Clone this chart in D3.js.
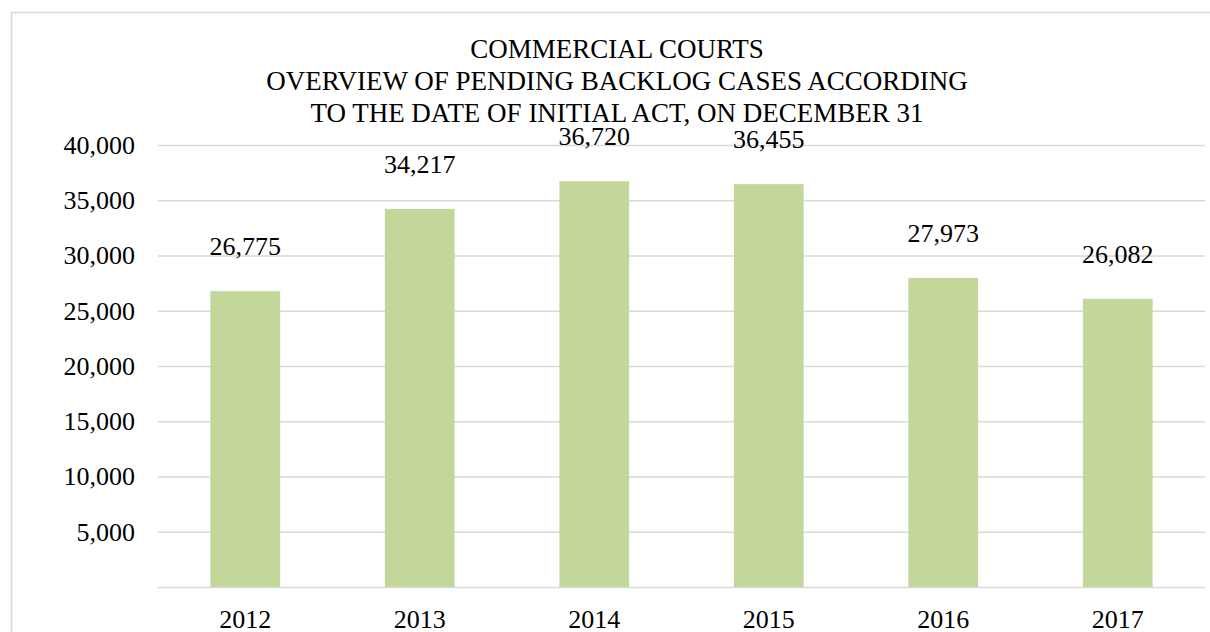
<!DOCTYPE html>
<html>
<head>
<meta charset="utf-8">
<script src="https://cdn.jsdelivr.net/npm/d3@7/dist/d3.min.js"></script>
<style>
  html, body { margin: 0; padding: 0; background: #fff; }
  svg { display: block; }
  svg text { font-family: "Liberation Serif", "Tinos", "Times New Roman", "Nimbus Roman", "DejaVu Serif", serif; fill: #000; }
</style>
</head>
<body>
<svg id="chart" width="1210" height="632"></svg>
<script>
// Pending backlog cases in commercial courts, as of December 31
const years = ["2012", "2013", "2014", "2015", "2016", "2017"];
const pendingCases = [26775, 34217, 36720, 36455, 27973, 26082];
const yTicks = [5000, 10000, 15000, 20000, 25000, 30000, 35000, 40000];
const titleLines = [
  "COMMERCIAL COURTS",
  "OVERVIEW OF PENDING BACKLOG CASES ACCORDING",
  "TO THE DATE OF INITIAL ACT, ON DECEMBER 31"
];

const svg = d3.select("#chart");
const W = 1210, H = 632;
const plot = { left: 158, right: 1205, top: 145, bottom: 587 };

// outer chart frame (extends past the right and bottom edges)
svg.append("rect")
  .attr("x", 11.5).attr("y", 12.5)
  .attr("width", W + 20).attr("height", H + 20)
  .attr("fill", "#fff")
  .attr("stroke", "#d9d9d9").attr("stroke-width", 1.5);

const x = d3.scaleBand()
  .domain(years)
  .range([plot.left, plot.right])
  .paddingInner(0.6)
  .paddingOuter(0.3);

const y = d3.scaleLinear()
  .domain([0, 40000])
  .range([plot.bottom, plot.top]);

const fmt = d3.format(",");

// horizontal gridlines, including the baseline
const yAxis = d3.axisLeft(y)
  .tickValues([0].concat(yTicks))
  .tickSize(-(plot.right - plot.left))
  .tickFormat(d => d === 0 ? "" : fmt(d))
  .tickPadding(23);

const gy = svg.append("g")
  .attr("transform", `translate(${plot.left},0)`)
  .call(yAxis)
  .attr("font-family", null)
  .attr("font-size", null);
gy.select(".domain").remove();
gy.selectAll(".tick line").attr("stroke", "#d9d9d9").attr("stroke-width", 1.3);
gy.selectAll(".tick text")
  .style("font-size", "26px")
  .attr("fill", "#000");

// bars
svg.append("g").selectAll("rect")
  .data(years)
  .join("rect")
  .attr("x", d => x(d))
  .attr("width", x.bandwidth())
  .attr("y", (d, i) => y(pendingCases[i]))
  .attr("height", (d, i) => y(0) - y(pendingCases[i]))
  .attr("fill", "#c4d79b");

// value labels above bars
svg.append("g").selectAll("text")
  .data(years)
  .join("text")
  .attr("x", d => x(d) + x.bandwidth() / 2)
  .attr("y", (d, i) => y(pendingCases[i]) - 36)
  .attr("text-anchor", "middle")
  .style("font-size", "26px")
  .text((d, i) => fmt(pendingCases[i]));

// category axis labels
const xAxis = d3.axisBottom(x).tickSize(0).tickPadding(0);
const gx = svg.append("g")
  .attr("transform", `translate(0,${plot.bottom})`)
  .call(xAxis)
  .attr("font-family", null)
  .attr("font-size", null);
gx.select(".domain").remove();
gx.selectAll(".tick text")
  .style("font-size", "26px")
  .attr("fill", "#000")
  .attr("dy", null)
  .attr("y", 41);

// title
const title = svg.append("g");
title.selectAll("text")
  .data(titleLines)
  .join("text")
  .attr("x", 617)
  .attr("y", (d, i) => 58 + i * 32)
  .attr("text-anchor", "middle")
  .style("font-size", "27px")
  .text(d => d);
</script>
</body>
</html>
